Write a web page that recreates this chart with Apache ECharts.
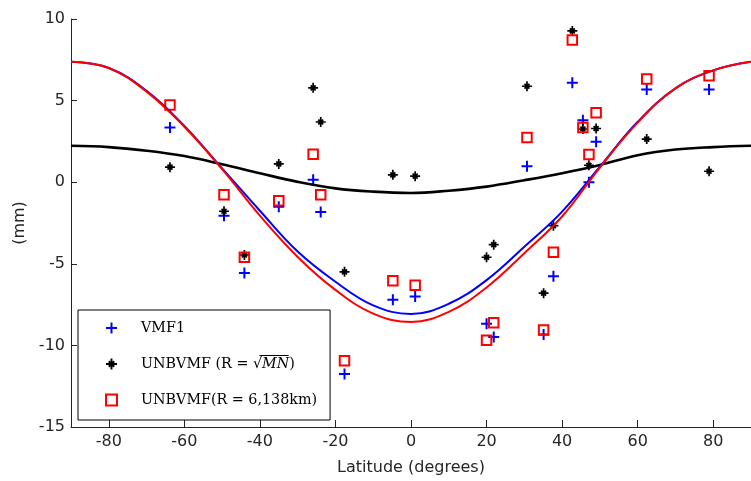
<!DOCTYPE html>
<html>
<head>
<meta charset="utf-8">
<script src="https://cdn.jsdelivr.net/npm/echarts@6/dist/echarts.min.js"></script>
<style>
  html, body { margin: 0; padding: 0; background: #fff; }
  #chart { width: 751px; height: 481px; }
</style>
</head>
<body>
<div id="chart"></div>
<script>
// Station latitudes (degrees) and the three sets of values (mm) at each station
const stationLat = [-63.8, -49.5, -44.1, -35.0, -25.9, -23.9, -17.6, -4.8, 1.1, 20.0,
                    21.9, 30.7, 35.1, 37.7, 42.7, 45.5, 47.1, 49.0, 62.4, 78.9];
const vmf1 = [3.35, -2.06, -5.57, -1.51, 0.15, -1.82, -11.76, -7.2, -7.0, -8.67,
              -9.48, 0.98, -9.33, -5.76, 6.09, 3.8, 0.0, 2.48, 5.68, 5.68];
const unbSqrtMN = [0.92, -1.78, -4.46, 1.12, 5.78, 3.69, -5.49, 0.45, 0.37, -4.6,
                   -3.83, 5.88, -6.8, -2.67, 9.27, 3.26, 1.04, 3.29, 2.64, 0.67];
const unbR6138 = [4.73, -0.77, -4.6, -1.13, 1.72, -0.77, -10.94, -6.04, -6.32, -9.69,
                  -8.61, 2.74, -9.06, -4.29, 8.72, 3.35, 1.7, 4.26, 6.33, 6.53];

// Fitted curves, read every 10 degrees of latitude
const curveLat = [-90, -80, -70, -60, -50, -40, -30, -20, -10, 0, 10, 20, 30, 40, 50, 60, 70, 80, 90];
const curveVmf1 = [7.38, 7.0, 5.6, 3.45, 0.85, -1.75, -4.25, -6.1, -7.55, -8.07, -7.45, -6.0, -3.95, -1.8, 0.95, 3.7, 5.75, 6.85, 7.38];
const curveR6138 = [7.38, 7.0, 5.55, 3.4, 0.8, -2.05, -4.58, -6.6, -8.05, -8.56, -7.95, -6.45, -4.35, -2.1, 0.9, 3.65, 5.75, 6.85, 7.38];
const curveSqrtMN = [2.23, 2.15, 1.93, 1.6, 1.1, 0.55, 0.02, -0.38, -0.58, -0.66, -0.52, -0.27, 0.12, 0.55, 1.05, 1.65, 2.0, 2.15, 2.23];

const xTicks = [-80, -60, -40, -20, 0, 20, 40, 60, 80];

const nameVmf1 = 'VMF1';
const nameSqrt = 'UNBVMF (R = sqrt(MN))';
const nameR = 'UNBVMF(R = 6,138km)';

const pair = (xs, ys) => xs.map((x, i) => [x, ys[i]]);

// Marker shapes: a plus and a chunky asterisk, as filled paths
const plusPath = 'path://M0,4.5H11V6.5H0Z M4.5,0H6.5V11H4.5Z';
const starPath = 'path://M0,8.3H20V11.7H0Z M8.3,0H11.7V20H8.3Z ' +
  'M6.3,3.8L16.2,13.7L13.7,16.2L3.8,6.3Z ' +
  'M3.8,13.7L13.7,3.8L16.2,6.3L6.3,16.2Z';

const axisColor = '#262626';
const sans = 'DejaVu Sans';
const serif = 'DejaVu Serif';
const legendFont = 14.3;

// Legend box geometry
const legendLeft = 78, legendTop = 310;
const legendPad = [9, 13, 11, 27];
const iconSize = 11, textPadLeft = 19, rowHeight = 18, rowGap = 18;

// Overbar for the square root in the second legend entry: measure the text run
function measure(font, s) {
  const ctx = document.createElement('canvas').getContext('2d');
  ctx.font = font;
  return ctx.measureText(s).width;
}
const textX = legendLeft + legendPad[3] + iconSize + 5 + textPadLeft;
const preWidth = measure(legendFont + 'px "' + serif + '"', 'UNBVMF (R = \u221A');
const radWidth = measure('italic ' + legendFont + 'px "' + serif + '"', 'MN');
const rootBarY = legendTop + legendPad[0] + (rowHeight + rowGap) + rowHeight / 2 - 8.5;

const chart = echarts.init(document.getElementById('chart'), null, { renderer: 'canvas' });

chart.setOption({
  animation: false,
  backgroundColor: '#fff',
  grid: { left: 71, top: 19, height: 411, right: -7 },
  xAxis: {
    type: 'value',
    min: -90,
    max: 90,
    name: 'Latitude (degrees)',
    nameLocation: 'middle',
    nameGap: 33,
    nameTextStyle: { fontFamily: sans, fontSize: 16, color: axisColor },
    axisLine: { show: true, onZero: false, lineStyle: { color: axisColor, width: 1 } },
    axisTick: { show: true, inside: true, length: 7, customValues: xTicks, lineStyle: { color: axisColor } },
    axisLabel: { customValues: xTicks, margin: 7, fontFamily: sans, fontSize: 16, color: axisColor },
    splitLine: { show: false }
  },
  yAxis: {
    type: 'value',
    min: -15,
    max: 10,
    interval: 5,
    name: '(mm)',
    nameLocation: 'middle',
    nameGap: 42,
    nameTextStyle: { fontFamily: sans, fontSize: 16, color: axisColor },
    axisLine: { show: true, onZero: false, lineStyle: { color: axisColor, width: 1 } },
    axisTick: { show: true, inside: true, length: 6, lineStyle: { color: axisColor } },
    axisLabel: { margin: 6, fontFamily: sans, fontSize: 16, color: axisColor },
    splitLine: { show: false }
  },
  legend: {
    data: [nameVmf1, nameSqrt, nameR],
    orient: 'vertical',
    left: legendLeft,
    top: legendTop,
    itemWidth: iconSize,
    itemHeight: iconSize,
    itemGap: rowGap,
    padding: legendPad,
    selectedMode: false,
    borderColor: '#000',
    borderWidth: 1,
    borderRadius: 0,
    backgroundColor: '#fff',
    textStyle: {
      fontFamily: serif,
      fontSize: legendFont,
      lineHeight: rowHeight,
      color: '#000',
      padding: [0, 0, 0, textPadLeft],
      rich: {
        t: { fontFamily: serif, fontSize: legendFont, lineHeight: rowHeight, color: '#000' },
        it: { fontFamily: serif, fontStyle: 'italic', fontSize: legendFont, lineHeight: rowHeight, color: '#000' }
      }
    },
    formatter: function (name) {
      if (name === nameSqrt) {
        return '{t|UNBVMF (R = \u221A}{it|MN}{t|)}';
      }
      return '{t|' + name + '}';
    }
  },
  graphic: [{
    type: 'line',
    z: 100,
    silent: true,
    shape: { x1: textX + preWidth - 1.5, y1: rootBarY, x2: textX + preWidth + radWidth + 0.5, y2: rootBarY },
    style: { stroke: '#000', lineWidth: 1 }
  }],
  series: [
    {
      name: 'fit-sqrtMN', type: 'line', data: pair(curveLat, curveSqrtMN),
      showSymbol: false, smooth: 0.4, silent: true,
      lineStyle: { color: '#000', width: 2.6 }
    },
    {
      name: 'fit-VMF1', type: 'line', data: pair(curveLat, curveVmf1),
      showSymbol: false, smooth: 0.4, silent: true,
      lineStyle: { color: '#0000ff', width: 2 }
    },
    {
      name: 'fit-R6138', type: 'line', data: pair(curveLat, curveR6138),
      showSymbol: false, smooth: 0.4, silent: true,
      lineStyle: { color: '#ff0000', width: 2 }
    },
    {
      name: nameVmf1, type: 'scatter', data: pair(stationLat, vmf1),
      symbol: plusPath, symbolSize: 11, silent: true,
      itemStyle: { color: '#0000ff', opacity: 1 }
    },
    {
      name: nameSqrt, type: 'scatter', data: pair(stationLat, unbSqrtMN),
      symbol: starPath, symbolSize: 10, silent: true,
      itemStyle: { color: '#000', opacity: 1 }
    },
    {
      name: nameR, type: 'scatter', data: pair(stationLat, unbR6138),
      symbol: 'rect', symbolSize: 9.5, silent: true,
      itemStyle: { color: 'transparent', borderColor: '#ff0000', borderWidth: 2, opacity: 1 }
    }
  ]
});
</script>
</body>
</html>
